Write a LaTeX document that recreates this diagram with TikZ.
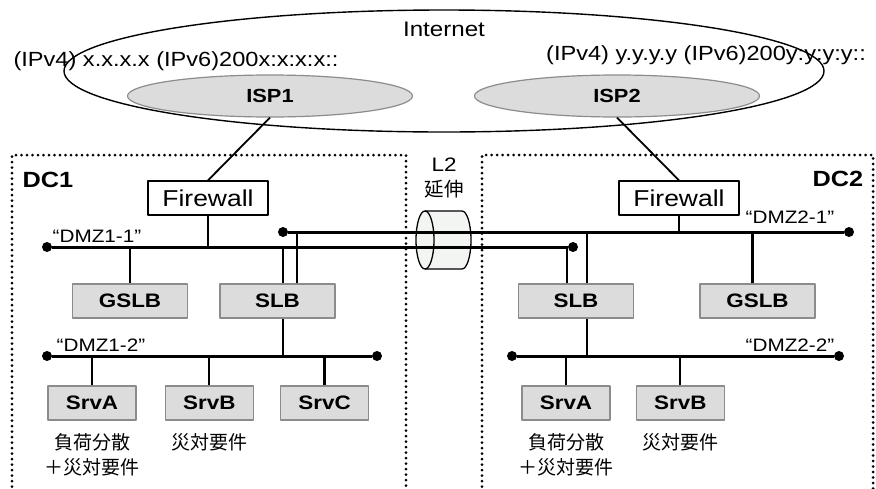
\documentclass[tikz,border=0pt]{standalone}
\usepackage{fontspec}
\setmainfont[FakeStretch=1.15]{Liberation Sans}
\newfontfamily\jp{Noto Sans CJK JP}
\usepackage{xcolor}
\usepackage{tikz}
\usetikzlibrary{positioning,shapes.geometric,calc}

\definecolor{boxgray}{HTML}{DCDCDC}
\definecolor{edgegray}{HTML}{8C8C8C}
\definecolor{cylfill}{HTML}{F3F5F3}

\begin{document}
\begin{tikzpicture}[
  x=1pt, y=-1pt, line join=round,
  fw/.style={draw,fill=white,line width=1.3pt,minimum width=120pt,minimum height=34pt,inner sep=0pt,font=\fontsize{23}{26}\selectfont},
  lb/.style={draw=edgegray,fill=boxgray,line width=1.3pt,minimum width=115pt,minimum height=34pt,inner sep=0pt,font=\bfseries\fontsize{19.5}{22}\selectfont},
  srv/.style={lb,minimum width=88pt},
  isp/.style={ellipse,draw=edgegray,fill=boxgray,line width=1.2pt,minimum width=285pt,minimum height=42pt,inner sep=0pt,font=\bfseries\fontsize{19}{22}\selectfont},
  bus/.style={line width=3pt},
  link/.style={line width=2.3pt},
  dcbox/.style={line width=3pt,dash pattern=on 0pt off 5.5pt,line cap=round},
  busend/.style={circle,fill,inner sep=0pt,minimum size=10pt},
  lbl/.style={inner sep=0pt,font=\fontsize{18}{20}\selectfont},
  note/.style={inner sep=0pt,align=center,font=\jp\fontsize{19}{25}\selectfont}
]
\useasboundingbox (0,0) rectangle (876,488);

\draw[dcbox] (12,492) |- (406,155) -- (406,492);
\draw[dcbox] (482,492) |- (873,155) -- (873,492);
\node[lbl,font=\bfseries\fontsize{22}{24}\selectfont] (dc1) at (48,180) {DC1};
\node[lbl,font=\bfseries\fontsize{22}{24}\selectfont] (dc2) at (838,179) {DC2};

\node[ellipse,draw,line width=1.4pt,minimum width=760pt,minimum height=122pt,inner sep=0pt] (inet) at (444,71) {};
\node[lbl,font=\fontsize{21}{24}\selectfont] (inettxt) at (444,29) {Internet};
\node[lbl,font=\fontsize{20.5}{23}\selectfont] (ip1) at (176,61) {(IPv4) x.x.x.x (IPv6)200x:x:x:x::};
\node[lbl,font=\fontsize{20.5}{23}\selectfont] (ip2) at (706,55) {(IPv4) y.y.y.y (IPv6)200y:y:y:y::};
\node[isp] (isp1) at (270,96) {ISP1};
\node[isp] (isp2) at (617,96) {ISP2};

\fill[cylfill] (425,211) -- (462,211) arc[start angle=90,end angle=-90,x radius=9pt,y radius=29pt] -- (425,269) -- cycle;
\draw[line width=1.3pt] (425,211) -- (462,211) arc[start angle=90,end angle=-90,x radius=9pt,y radius=29pt] -- (425,269);
\draw[line width=1.3pt,fill=cylfill] (425,240) ellipse [x radius=9pt,y radius=29pt];
\node[lbl,align=center,font=\fontsize{19.5}{25}\selectfont] (l2) at (444,178) {L2\\{\jp 延伸}};

\node[fw] (fw1) at (208,198) {Firewall};
\node[fw] (fw2) at (679,198) {Firewall};
\node[lb] (gslb1) at (130,301) {GSLB};
\node[lb] (slb1) at (277.5,301) {SLB};
\node[lb] (slb2) at (576,301) {SLB};
\node[lb] (gslb2) at (757.5,301) {GSLB};

\node[srv] (srva1) at (92,403) {SrvA};
\node[srv,right=28pt of srva1] (srvb1) {SrvB};
\node[srv,right=26pt of srvb1] (srvc1) {SrvC};
\node[srv] (srva2) at (566,403) {SrvA};
\node[srv,right=25pt of srva2] (srvb2) {SrvB};

\node[note,below=13pt of srva1] (na1) {負荷分散\\＋災対要件};
\node[note,below=13pt of srvb1] (nb1) {災対要件};
\node[note,below=13pt of srva2] (na2) {負荷分散\\＋災対要件};
\node[note,below=13pt of srvb2] (nb2) {災対要件};

\node[busend] (d11w) at (47,247) {};
\node[busend] (d11e) at (573,247) {};
\node[busend] (d21w) at (283,232) {};
\node[busend] (d21e) at (849,232) {};
\node[busend] (d12w) at (47,356) {};
\node[busend] (d12e) at (377,356) {};
\node[busend] (d22w) at (512,356) {};
\node[busend] (d22e) at (839,356) {};
\node[lbl] (t11) at (97,236) {“DMZ1-1”};
\node[lbl] (t21) at (790,217) {“DMZ2-1”};
\node[lbl] (t12) at (101,345) {“DMZ1-2”};
\node[lbl] (t22) at (790,345) {“DMZ2-2”};

\draw[bus] (d11w) -- (d11e);
\draw[bus] (d21w) -- (d21e);
\draw[bus] (d12w) -- (d12e);
\draw[bus] (d22w) -- (d22e);

\draw[line width=1.8pt] (isp1.south) -- (fw1.north);
\draw[line width=1.8pt] (isp2.south) -- (fw2.north);

\coordinate (s1a) at ([xshift=5.5pt]slb1.north);
\coordinate (s1b) at ([xshift=19.5pt]slb1.north);
\coordinate (s1c) at ([xshift=5.5pt]slb1.south);
\coordinate (s2a) at ([xshift=-9pt]slb2.north);
\coordinate (s2b) at ([xshift=11pt]slb2.north);
\coordinate (s2c) at ([xshift=11pt]slb2.south);
\coordinate (g2) at ([xshift=-5pt]gslb2.north);

\draw[link] (fw1.south) -- (fw1.south |- d11w);
\draw[link] (gslb1.north) -- (gslb1.north |- d11w);
\draw[link] (s1a) -- (s1a |- d11w);
\draw[link] (s1b) -- (s1b |- d21w);
\draw[link] (s1c) -- (s1c |- d12w);
\draw[link] (srva1.north) -- (srva1.north |- d12w);
\draw[link] (srvb1.north) -- (srvb1.north |- d12w);
\draw[link] (srvc1.north) -- (srvc1.north |- d12w);

\draw[link] (fw2.south) -- (fw2.south |- d21e);
\draw[link] (g2) -- (g2 |- d21e);
\draw[link] (s2a) -- (s2a |- d11e);
\draw[link] (s2b) -- (s2b |- d21e);
\draw[link] (s2c) -- (s2c |- d22w);
\draw[link] (srva2.north) -- (srva2.north |- d22w);
\draw[link] (srvb2.north) -- (srvb2.north |- d22w);
\end{tikzpicture}
\end{document}
